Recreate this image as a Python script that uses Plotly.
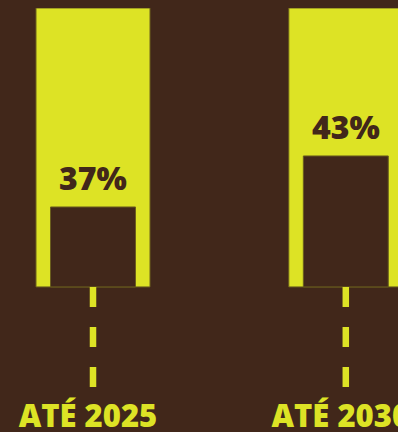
import plotly.graph_objects as go

# Data
categories = ["ATÉ 2025", "ATÉ 2030"]
values = [37, 43]
value_labels = ["37%", "43%"]

# Style / layout constants
BG = "#41271a"
YELLOW = "#dde325"
EDGE = "#6a5e1e"
FLOOR = 27.6      # axis value where bars start (stylised scale)
TOP = 60.4        # top of the yellow track
AX_MIN = 15.83    # bottom of plotting area (end of dashed lines)

fig = go.Figure()

# Yellow tracks
fig.add_trace(go.Bar(
    x=categories, y=[TOP - FLOOR] * len(categories), base=FLOOR,
    width=0.451, marker=dict(color=YELLOW, line=dict(color=EDGE, width=1)),
    hoverinfo="skip", showlegend=False,
))
# Dark value bars
fig.add_trace(go.Bar(
    x=categories, y=[v - FLOOR for v in values], base=FLOOR,
    width=0.336, marker=dict(color=BG, line=dict(color=EDGE, width=1)),
    hoverinfo="skip", showlegend=False,
))
# Dashed connectors
for c in categories:
    fig.add_trace(go.Scatter(
        x=[c, c], y=[FLOOR, AX_MIN], mode="lines",
        line=dict(color=YELLOW, width=6.5, dash="20px,20px"),
        hoverinfo="skip", showlegend=False,
    ))

# Percentage labels
for c, v, t in zip(categories, values, value_labels):
    fig.add_annotation(
        x=c, y=v, text=t, showarrow=False, yanchor="bottom", yshift=6,
        font=dict(family="Open Sans", size=32, color=BG, weight=800),
    )

x0 = -93 / 252.8
fig.update_layout(
    width=398, height=432,
    margin=dict(l=0, r=0, t=8, b=45),
    paper_bgcolor=BG, plot_bgcolor=BG,
    barmode="overlay",
    xaxis=dict(
        type="category", range=[x0, x0 + 398 / 252.8],
        showgrid=False, zeroline=False, showline=False, ticks="",
        tickfont=dict(family="Open Sans", size=31, color=YELLOW, weight=800),
        ticklabelstandoff=8, ticklabelshift=-5,
        automargin=False,
    ),
    yaxis=dict(
        range=[AX_MIN, TOP], visible=False, showgrid=False, zeroline=False,
        automargin=False,
    ),
)

fig.write_html("out.html")
